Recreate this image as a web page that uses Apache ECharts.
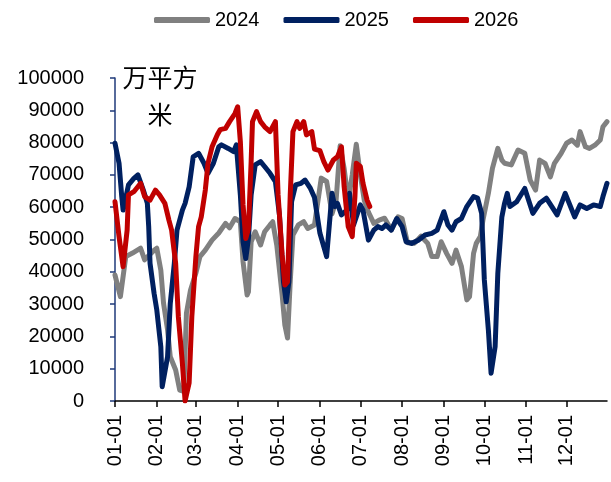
<!DOCTYPE html>
<html>
<head>
<meta charset="utf-8">
<script src="https://cdn.jsdelivr.net/npm/echarts@6/dist/echarts.min.js"></script>
<style>
  html, body { margin: 0; padding: 0; background: #fff; }
  #chart { width: 611px; height: 482px; }
</style>
</head>
<body>
<div id="chart"></div>
<script>
// day-of-year index (leap calendar, 01-01 = 0) and value
const days2024 = [0,4,8,13,19,22,29,31,34,36,39,41,45,48,51,53,56,60,63,67,72,77,82,85,89,93,95,98,99,101,104,108,111,115,117,120,124,126,128,130,132,136,140,143,148,153,157,161,164,167,170,173,176,179,182,185,188,192,196,200,205,210,213,217,222,227,232,235,239,242,246,250,253,257,261,263,266,268,271,273,277,280,284,287,289,294,299,304,308,312,315,319,323,326,331,335,339,343,345,349,352,356,360,362,365];
const values2024 = [39000,32300,44700,45800,47300,43700,46700,47300,40500,30300,22000,13700,9600,3400,3000,27200,34300,39600,44700,46700,49800,52000,55000,53600,56500,55500,43100,32800,33800,49300,52400,48300,52400,54500,55500,48300,32800,23500,19500,36900,51400,54500,55500,53400,54500,69000,68000,58000,62000,79000,72000,62000,70000,79500,70000,62000,58500,55000,56000,56600,53000,57000,56500,49000,48800,51000,48800,44700,44700,49300,45700,42600,46700,41600,31300,32300,45700,48800,50900,56000,64300,72000,78200,74600,73600,73100,77700,76700,68400,65300,74600,73600,69400,73600,76700,79800,80800,79200,83400,78700,78200,79200,80800,84900,86500];

const days2025 = [0,3,5,6,10,14,17,21,24,25,26,29,31,34,35,36,39,41,44,46,50,52,55,58,62,66,69,73,77,79,84,88,90,93,95,97,99,101,104,108,111,115,119,122,125,127,129,131,134,138,141,145,148,152,157,161,163,165,168,172,174,177,179,182,184,188,192,195,198,201,205,209,213,216,220,225,230,235,239,244,247,250,253,257,261,266,269,272,274,277,279,282,284,287,289,291,293,298,304,310,315,320,328,334,341,345,350,355,360,362,365];
const values2025 = [79800,73600,63300,59100,66900,68900,70000,65300,61200,54000,42600,33300,28200,16800,4400,4400,13700,30200,42600,52900,59100,61200,66300,75600,76700,73600,70500,73600,78700,79300,78200,77200,79300,63800,49300,44100,50300,63800,73100,74100,72600,70500,67900,57600,36900,30700,36900,61700,66900,67400,68400,65800,63000,52000,44700,64300,60200,61200,57600,59100,64300,54500,57000,60700,59100,49800,52900,54000,53400,54500,52900,56500,54000,49300,48800,49800,51400,51900,52900,58600,54500,52900,55500,56500,60200,63300,62800,58100,37500,22000,8600,16800,39500,57000,61200,64300,60200,61700,65800,58100,61200,62800,57600,64300,57000,60700,59600,60700,60200,63300,67400];

const days2026 = [0,3,6,9,10,14,19,22,26,30,33,37,40,42,45,47,50,52,55,57,60,62,64,67,69,72,76,78,82,85,89,91,93,95,97,99,101,102,105,108,111,115,119,121,124,126,128,130,132,135,137,140,142,146,148,152,155,158,162,165,168,170,173,176,178,179,182,184,187,189];
const values2026 = [61700,50900,41600,52900,63800,64800,67400,63300,62200,65300,63800,61200,56000,52900,42600,26100,11600,0,5600,26100,44700,54000,57000,65300,73600,78700,82500,84000,84400,86500,89000,91100,80300,60700,50300,53400,74100,86500,89600,86500,84900,83400,86500,63800,45200,35900,36900,63800,83400,86500,84400,86500,82400,83400,78000,77500,74000,71500,74600,75600,78700,66300,54000,50900,63300,73600,72600,67400,62200,60200];

const monthDays = [31,29,31,30,31,30,31,31,30,31,30,31];
const unitText = "万平方\n米";

// calendar categories 01-01 .. 12-31
const pad = (n) => String(n).padStart(2, "0");
const categories = [];
monthDays.forEach((len, m) => {
  for (let d = 1; d <= len; d++) categories.push(pad(m + 1) + "-" + pad(d));
});
const isMonthStart = (idx) => categories[idx].endsWith("-01");

const pairs = (days, vals) => days.map((d, i) => [d, vals[i]]);

const myChart = echarts.init(document.getElementById("chart"), null, { renderer: "canvas" });

const lineSeries = (name, color, data) => ({
  name,
  type: "line",
  data,
  showSymbol: false,
  symbol: "none",
  smooth: false,
  lineStyle: { width: 5, color, cap: "round", join: "round" },
  itemStyle: { color },
});

const option = {
  animation: false,
  textStyle: { fontFamily: "Liberation Sans, Arial, sans-serif" },
  legend: {
    top: 5,
    left: 149,
    icon: "roundRect",
    itemWidth: 56,
    itemHeight: 6,
    itemGap: 24,
    textStyle: { fontSize: 20, color: "#000" },
    data: ["2024", "2025", "2026"],
  },
  grid: { left: 115, right: 4, top: 78, bottom: 81, outerBoundsMode: "none" },
  xAxis: {
    type: "category",
    data: categories,
    boundaryGap: false,
    axisLine: { lineStyle: { color: "#000", width: 1.5 } },
    axisTick: {
      show: true,
      length: 6,
      interval: (idx) => isMonthStart(idx),
      lineStyle: { color: "#000", width: 1.5 },
    },
    axisLabel: {
      rotate: 90,
      margin: 14,
      fontSize: 20,
      color: "#000",
      interval: (idx) => isMonthStart(idx),
    },
    splitLine: { show: false },
  },
  yAxis: {
    type: "value",
    min: 0,
    max: 100000,
    interval: 10000,
    axisLine: { show: true, lineStyle: { color: "#1F3A7A", width: 1.5 } },
    axisTick: { show: true, length: 5, lineStyle: { color: "#1F3A7A", width: 1.5 } },
    axisLabel: {
      fontSize: 20,
      color: "#000",
      margin: 31,
      formatter: (v) => String(v),
    },
    splitLine: { show: false },
  },
  graphic: [
    {
      type: "text",
      x: 160,
      y: 59,
      style: {
        text: unitText,
        textAlign: "center",
        textVerticalAlign: "top",
        font: '25px "Noto Sans CJK SC"',
        lineHeight: 37,
        fill: "#000",
      },
    },
  ],
  series: [
    lineSeries("2024", "#808080", pairs(days2024, values2024)),
    lineSeries("2025", "#002060", pairs(days2025, values2025)),
    lineSeries("2026", "#C00000", pairs(days2026, values2026)),
  ],
};

myChart.setOption(option);
</script>
</body>
</html>
